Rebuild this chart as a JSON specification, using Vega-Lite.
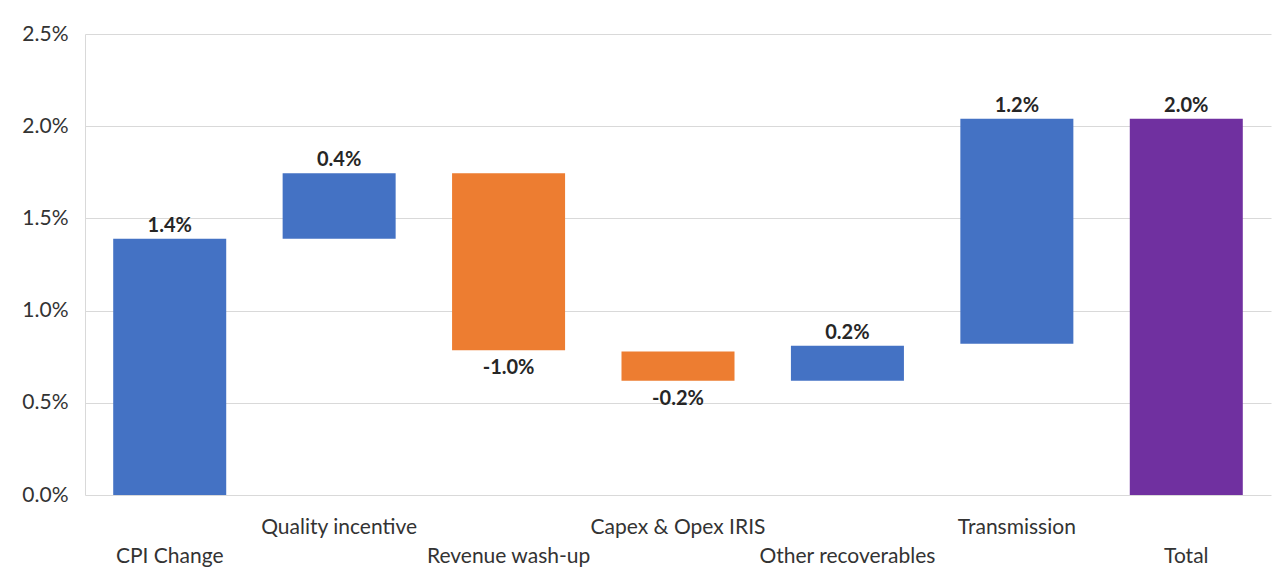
{
  "$schema": "https://vega.github.io/schema/vega-lite/v6.json",
  "width": 1186,
  "height": 461,
  "autosize": {"type": "none"},
  "padding": {"left": 85, "top": 34, "right": 17, "bottom": 86},
  "background": "white",
  "config": {
    "view": {"stroke": null},
    "font": "Lato",
    "axis": {"labelFont": "Lato", "labelFontSize": 21, "labelColor": "#333333", "ticks": false, "gridColor": "#D9D9D9", "domainColor": "#D9D9D9", "title": null}
  },
  "data": {
    "values": [
      {"cat": "CPI Change", "start": 0, "end": 0.0139, "kind": "up", "label": "1.4%"},
      {"cat": "Quality incentive", "start": 0.0139, "end": 0.01745, "kind": "up", "label": "0.4%"},
      {"cat": "Revenue wash-up", "start": 0.01745, "end": 0.00785, "kind": "down", "label": "-1.0%"},
      {"cat": "Capex & Opex IRIS", "start": 0.00778, "end": 0.0062, "kind": "down", "label": "-0.2%"},
      {"cat": "Other recoverables", "start": 0.0062, "end": 0.0081, "kind": "up", "label": "0.2%"},
      {"cat": "Transmission", "start": 0.0082, "end": 0.0204, "kind": "up", "label": "1.2%"},
      {"cat": "Total", "start": 0, "end": 0.0204, "kind": "total", "label": "2.0%"}
    ]
  },
  "encoding": {
    "x": {
      "field": "cat",
      "type": "nominal",
      "sort": null,
      "scale": {"paddingInner": 0.333, "paddingOuter": 0.1665},
      "axis": {
        "labelAngle": 0,
        "labelPadding": 32,
        "labelBaseline": "middle",
        "labelLineHeight": 29,
        "domain": false,
        "labelExpr": "indexof(['CPI Change','Revenue wash-up','Other recoverables','Total'], datum.value) >= 0 ? ['', datum.value] : datum.value"
      }
    }
  },
  "layer": [
    {
      "mark": {"type": "bar"},
      "encoding": {
        "y": {
          "field": "start",
          "type": "quantitative",
          "scale": {"domain": [0, 0.025], "nice": false},
          "axis": {"format": ".1%", "values": [0, 0.005, 0.01, 0.015, 0.02, 0.025], "labelPadding": 17, "grid": true, "domain": true}
        },
        "y2": {"field": "end"},
        "color": {
          "field": "kind",
          "type": "nominal",
          "scale": {"domain": ["up", "down", "total"], "range": ["#4472C4", "#ED7D31", "#7030A0"]},
          "legend": null
        }
      }
    },
    {
      "transform": [{"filter": "datum.kind != 'down'"}],
      "mark": {"type": "text", "baseline": "alphabetic", "dy": -7, "fontWeight": "bold", "fontSize": 20, "color": "#262626"},
      "encoding": {
        "y": {"field": "end", "type": "quantitative"},
        "text": {"field": "label"}
      }
    },
    {
      "transform": [{"filter": "datum.kind == 'down'"}],
      "mark": {"type": "text", "baseline": "top", "dy": 8, "fontWeight": "bold", "fontSize": 20, "color": "#262626"},
      "encoding": {
        "y": {"field": "end", "type": "quantitative"},
        "text": {"field": "label"}
      }
    }
  ]
}
